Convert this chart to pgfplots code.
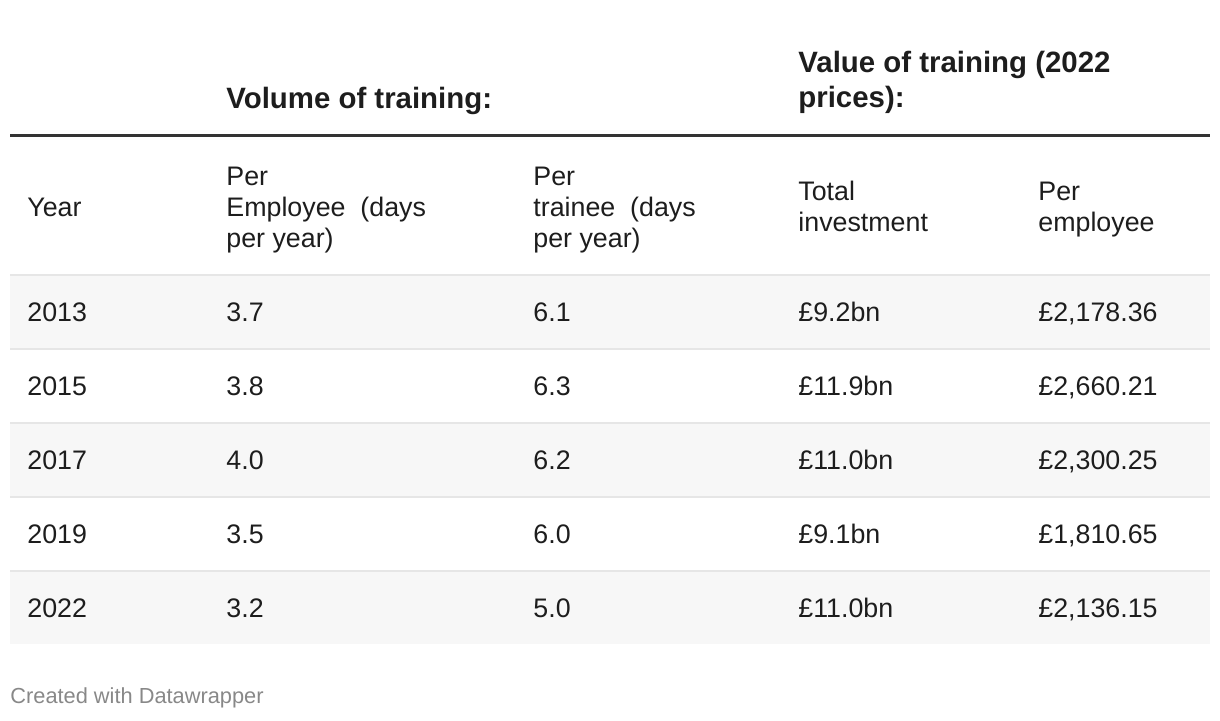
\documentclass[border=0pt]{standalone}
\usepackage{fontspec}
\setmainfont{Liberation Sans}
\usepackage{pgfplots}
\pgfplotsset{compat=1.18}
\usepackage{pgfplotstable}
\definecolor{ink}{HTML}{1D1D1D}
\definecolor{rulec}{HTML}{333333}
\definecolor{rowbg}{HTML}{F7F7F7}
\definecolor{sepc}{HTML}{E6E6E6}
\definecolor{foot}{HTML}{888888}

% body cells: x = left edge (px), y = baseline (px), label
\pgfplotstableread{
x    y   label
27   321 2013
226  321 3.7
533  321 6.1
798  321 £9.2bn
1038 321 £2,178.36
27   395 2015
226  395 3.8
533  395 6.3
798  395 £11.9bn
1038 395 £2,660.21
27   469 2017
226  469 4.0
533  469 6.2
798  469 £11.0bn
1038 469 £2,300.25
27   543 2019
226  543 3.5
533  543 6.0
798  543 £9.1bn
1038 543 £1,810.65
27   617 2022
226  617 3.2
533  617 5.0
798  617 £11.0bn
1038 617 £2,136.15
}\cells

\newcommand\bodyfont{\fontsize{13.4}{15}\selectfont}
\newcommand\headfont{\fontsize{14.7}{17}\selectfont\bfseries}

\begin{document}
\begin{tikzpicture}
\begin{axis}[
  scale only axis, width=610pt, height=360pt,
  xmin=0, xmax=1220, ymin=0, ymax=720, y dir=reverse,
  hide axis, clip=false,
]
\path (axis cs:0,0) rectangle (axis cs:1220,720);
% shaded rows
\fill[rowbg] (axis cs:10,276) rectangle (axis cs:1210,349);
\fill[rowbg] (axis cs:10,424) rectangle (axis cs:1210,497);
\fill[rowbg] (axis cs:10,572) rectangle (axis cs:1210,644);
% row separators
\pgfplotsinvokeforeach{275,349,423,497,571}{
  \draw[sepc, line width=1pt] (axis cs:10,#1) -- (axis cs:1210,#1);
}
% heavy rule under the group headings
\draw[rulec, line width=1.5pt] (axis cs:10,135) -- (axis cs:1210,135);

% group headings
\node[anchor=base west, inner sep=0pt, text=ink, font=\headfont] at (axis cs:226,108) {Volume of training:};
\node[anchor=base west, inner sep=0pt, text=ink, font=\headfont] at (axis cs:798,72) {Value of training (2022};
\node[anchor=base west, inner sep=0pt, text=ink, font=\headfont] at (axis cs:798,107) {prices):};

% column headings
\begin{scope}[every node/.style={anchor=base west, inner sep=0pt, text=ink, font=\bodyfont}]
\node at (axis cs:27,216) {Year};
\node at (axis cs:226,185) {Per};
\node at (axis cs:226,216) {Employee\ \ (days};
\node at (axis cs:226,247) {per year)};
\node at (axis cs:533,185) {Per};
\node at (axis cs:533,216) {trainee\ \ (days};
\node at (axis cs:533,247) {per year)};
\node at (axis cs:798,200) {Total};
\node at (axis cs:798,231) {investment};
\node at (axis cs:1038,200) {Per};
\node at (axis cs:1038,231) {employee};
\end{scope}

\addplot[only marks, mark=none, nodes near coords, point meta=explicit symbolic,
  every node near coord/.append style={anchor=base west, inner sep=0pt,
    text=ink, font=\bodyfont}]
  table[x=x, y=y, meta=label] {\cells};

\node[anchor=base west, inner sep=0pt, text=foot, font=\fontsize{10.9}{12}\selectfont]
  at (axis cs:10,703) {Created with Datawrapper};
\end{axis}
\end{tikzpicture}
\end{document}
